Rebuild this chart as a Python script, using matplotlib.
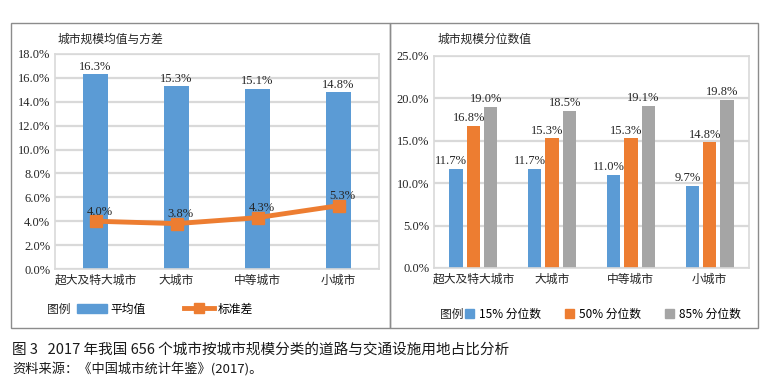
import matplotlib
matplotlib.use("Agg")
import matplotlib.pyplot as plt
from matplotlib.patches import Rectangle, Patch
from matplotlib.lines import Line2D
from matplotlib.ticker import FuncFormatter
import numpy as np

plt.rcParams['font.family'] = ['Noto Sans CJK SC', 'DejaVu Sans']

categories = ["超大及特大城市", "大城市", "中等城市", "小城市"]
mean_vals = [16.3, 15.3, 15.1, 14.8]
std_vals = [4.0, 3.8, 4.3, 5.3]
q15 = [11.7, 11.7, 11.0, 9.7]
q50 = [16.8, 15.3, 15.3, 14.8]
q85 = [19.0, 18.5, 19.1, 19.8]

BLUE = "#5B9BD5"
ORANGE = "#ED7D31"
GRAY = "#A5A5A5"
GRID = "#D9D9D9"
TXT = "#262626"
NUM_FONT = ["Liberation Serif", "DejaVu Serif"]

W, H = 775, 381
fig = plt.figure(figsize=(W / 100, H / 100), dpi=100)


def fx(px):
    return px / W


def fy(py):
    return 1 - py / H


def style_axes(ax, ymax, step):
    ax.set_xlim(-0.5, 3.5)
    ax.set_ylim(0, ymax)
    ax.set_yticks(np.arange(0, ymax + 0.01, step))
    ax.yaxis.set_major_formatter(FuncFormatter(lambda v, p: "%.1f%%" % v))
    ax.grid(axis="y", color=GRID, linewidth=1.6)
    ax.set_axisbelow(True)
    for s in ax.spines.values():
        s.set_color(GRID)
        s.set_linewidth(1.2)
    ax.tick_params(length=0, colors=TXT, labelsize=9)
    for lab in ax.get_yticklabels():
        lab.set_family(NUM_FONT)
    ax.set_xticks(range(len(categories)))
    ax.set_xticklabels(categories, fontsize=8.5, color=TXT)


# outer frames
for x0, x1 in [(11, 390), (390, 758)]:
    fig.patches.append(Rectangle((fx(x0), fy(328)), fx(x1) - fx(x0), fy(23) - fy(328),
                                 transform=fig.transFigure, fill=False,
                                 edgecolor="#8C8C8C", linewidth=1.0))

# left chart: mean and std
ax1 = fig.add_axes([fx(55), fy(269), fx(379) - fx(55), fy(54) - fy(269)])
x = np.arange(len(categories))
ax1.bar(x, mean_vals, width=0.31, color=BLUE, zorder=2)
ax1.plot(x, std_vals, color=ORANGE, linewidth=3.5, marker="s", markersize=8, zorder=3)
style_axes(ax1, 18, 2)
for xi, v in zip(x, mean_vals):
    ax1.text(xi, v + 0.1, "%.1f%%" % v, ha="center", va="bottom", fontsize=9,
             color=TXT, family=NUM_FONT)
for xi, v in zip(x, std_vals):
    ax1.text(xi + 0.05, v + 0.3, "%.1f%%" % v, ha="center", va="bottom", fontsize=9,
             color=TXT, family=NUM_FONT, zorder=4)
fig.text(fx(58), fy(39), "城市规模均值与方差", fontsize=8.5, color=TXT, va="center")
fig.text(fx(47), fy(309), "图例", fontsize=8.5, color=TXT, va="center")
h1 = [Patch(color=BLUE, label="平均值"),
      Line2D([0], [0], color=ORANGE, linewidth=3.5, marker="s", markersize=7, label="标准差")]
fig.legend(handles=h1, loc="center left", bbox_to_anchor=(fx(77), fy(309)), ncol=2,
           frameon=False, fontsize=8.5, handlelength=2.5, handleheight=0.7,
           handletextpad=0.3, columnspacing=3.3, borderaxespad=0, borderpad=0)

# right chart: quantiles
ax2 = fig.add_axes([fx(434), fy(268), fx(749) - fx(434), fy(56) - fy(268)])
bw, off = 0.17, 0.22
series = [(q15, BLUE, "15% 分位数"), (q50, ORANGE, "50% 分位数"), (q85, GRAY, "85% 分位数")]
for k, (vals, col, lab) in enumerate(series):
    xs = x + (k - 1) * off
    ax2.bar(xs, vals, width=bw, color=col, zorder=2, label=lab)
    for xi, v in zip(xs, vals):
        ax2.text(xi - 0.06, v + 0.2, "%.1f%%" % v, ha="center", va="bottom", fontsize=9,
                 color=TXT, family=NUM_FONT)
style_axes(ax2, 25, 5)
fig.text(fx(438), fy(39), "城市规模分位数值", fontsize=8.5, color=TXT, va="center")
fig.text(fx(440), fy(314), "图例", fontsize=8.5, color=TXT, va="center")
h2 = [Patch(color=c, label=l) for _, c, l in series]
fig.legend(handles=h2, loc="center left", bbox_to_anchor=(fx(465), fy(314)), ncol=3,
           frameon=False, fontsize=8.5, handlelength=0.8, handleheight=0.8,
           handletextpad=0.4, columnspacing=2.0, borderaxespad=0, borderpad=0)

# caption
fig.text(fx(12), fy(350), "图 3   2017 年我国 656 个城市按城市规模分类的道路与交通设施用地占比分析",
         fontsize=10.5, color="#1a1a1a", va="center")
fig.text(fx(12), fy(369), "资料来源：《中国城市统计年鉴》(2017)。",
         fontsize=9.5, color="#1a1a1a", va="center")

fig.savefig("out.png", dpi=100)
